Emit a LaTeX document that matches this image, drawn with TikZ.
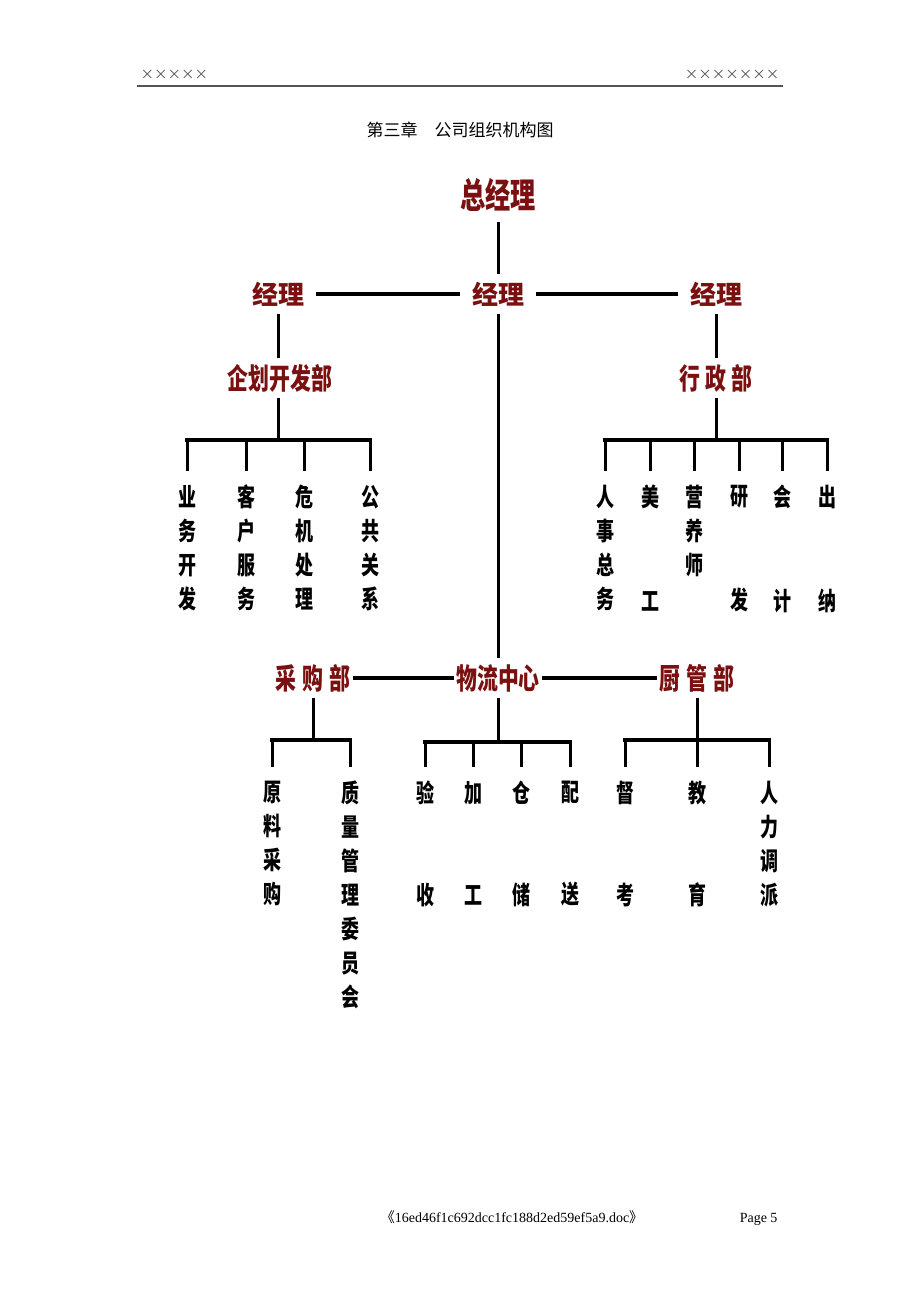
\documentclass[tikz,border=0pt]{standalone}
\usepackage{fontspec}
\setmainfont{Liberation Serif}
\newfontfamily\hei{Noto Sans CJK SC}
\newfontfamily\heiz[FakeStretch=0.72]{Noto Sans CJK SC}
\newfontfamily\heiv[FakeStretch=0.72]{Noto Sans CJK SC}
\definecolor{mgrred}{HTML}{7A1010}
\definecolor{headgray}{HTML}{555555}

\begin{document}
\begin{tikzpicture}[x=1pt,y=-1pt,
 mgr/.style={text=mgrred,font=\hei\bfseries\fontsize{26}{26}\selectfont,inner xsep=12pt,inner ysep=8pt},
 dept/.style={text=mgrred,font=\heiz\bfseries\fontsize{29}{29}\selectfont,inner xsep=2pt,inner ysep=6pt},
 vtext/.style={anchor=north,align=center,font=\heiv\bfseries\fontsize{25}{34}\selectfont,inner xsep=0pt,inner ysep=14pt},
 conn/.style={line width=3pt},
 bar/.style={line width=4pt,line cap=rect}]
 \useasboundingbox (0,0) rectangle (920,1302);
 % page head
 \node (headl) [anchor=west,text=headgray,font=\hei\fontsize{13.5}{13.5}\selectfont] at (137,75) {×××××};
 \node (headr) [anchor=east,text=headgray,font=\hei\fontsize{13.5}{13.5}\selectfont] at (783,75) {×××××××};
 \draw [line width=1.5pt,headgray] (137,86) -- (783,86);
 \node (title) [font=\hei\fontsize{17}{17}\selectfont] at (460,130) {第三章　公司组织机构图};
 % managers
 \node (gjl) [mgr,font=\heiz\bfseries\fontsize{35}{35}\selectfont,inner ysep=10pt] at (498,195) {总经理};
 \node (jlm) [mgr] at (498,294) {经理};
 \node (jll) [mgr] at (278,294) {经理};
 \node (jlr) [mgr] at (716,294) {经理};
 \draw [conn] (gjl.south) -- (jlm.north);
 \draw [bar,line cap=butt] (jll) -- (jlm);
 \draw [bar,line cap=butt] (jlm) -- (jlr);
 % planning dept
 \node (qhkf) [dept] at (280,378) {企划开发部};
 \coordinate (qhbar) at (278,440);
 \draw [conn] (jll.south) -- (jll.south |- qhkf.north);
 \draw [conn] (qhkf.south -| qhbar) -- (qhbar);
 \node (ywkf) [vtext] at (187,471) {业\\务\\开\\发};
 \node (khfw) [vtext] at (246,471) {客\\户\\服\\务};
 \node (wjcl) [vtext] at (304,471) {危\\机\\处\\理};
 \node (ggxx) [vtext] at (370,471) {公\\共\\关\\系};
 \draw [bar] (ywkf.north |- qhbar) -- (ggxx.north |- qhbar);
 \foreach \n in {ywkf,khfw,wjcl,ggxx}
  \draw [conn] (\n.north |- qhbar) -- (\n.north);
 % admin dept
 \node (xzb) [dept] at (716,378) {行\hspace{5pt}政\hspace{5pt}部};
 \coordinate (xzbar) at (716,440);
 \draw [conn] (jlr) -- (xzb);
 \draw [conn] (xzb) -- (xzbar);
 \node (rszw) [vtext] at (605,471) {人\\事\\总\\务};
 \node (mg) [vtext] at (650,471) {美\\[70pt]工};
 \node (yys) [vtext] at (694,471) {营\\养\\师};
 \node (yf) [vtext] at (739,471) {研\\[70pt]发};
 \node (kj) [vtext] at (782,471) {会\\[70pt]计};
 \node (cn) [vtext] at (827,471) {出\\[70pt]纳};
 \draw [bar] (rszw.north |- xzbar) -- (cn.north |- xzbar);
 \foreach \n in {rszw,mg,yys,yf,kj,cn}
  \draw [conn] (\n.north |- xzbar) -- (\n.north);
 % logistics row
 \node (cgou) [dept] at (313,678) {采\hspace{6pt}购\hspace{6pt}部};
 \node (wlzx) [dept] at (498,678) {物流中心};
 \node (cguan) [dept] at (697,678) {厨\hspace{6pt}管\hspace{6pt}部};
 \draw [conn] (jlm.south) -- (wlzx.north);
 \draw [bar,line cap=butt] (cgou) -- (wlzx);
 \draw [bar,line cap=butt] (wlzx) -- (cguan);
 \coordinate (cgbar) at (313,740);
 \coordinate (wlbar) at (498,742);
 \coordinate (cnbar) at (697,740);
 \draw [conn] (cgou.south -| cgbar) -- (cgbar);
 \draw [conn] (wlzx) -- (wlbar);
 \draw [conn] (cguan) -- (cnbar);
 \node (ylcg) [vtext] at (272,767) {原\\料\\采\\购};
 \node (zlgl) [vtext] at (350,767) {质\\量\\管\\理\\委\\员\\会};
 \node (ys) [vtext] at (425,767) {验\\[68pt]收};
 \node (jg) [vtext] at (473,767) {加\\[68pt]工};
 \node (cc) [vtext] at (521,767) {仓\\[68pt]储};
 \node (ps) [vtext] at (570,767) {配\\[68pt]送};
 \node (dk) [vtext] at (625,767) {督\\[68pt]考};
 \node (jy) [vtext] at (697,767) {教\\[68pt]育};
 \node (rldp) [vtext] at (769,767) {人\\力\\调\\派};
 \draw [bar] (ylcg.north |- cgbar) -- (zlgl.north |- cgbar);
 \draw [bar] (ys.north |- wlbar) -- (ps.north |- wlbar);
 \draw [bar] (dk.north |- cnbar) -- (rldp.north |- cnbar);
 \foreach \n in {ylcg,zlgl}
  \draw [conn] (\n.north |- cgbar) -- (\n.north);
 \foreach \n in {ys,jg,cc,ps}
  \draw [conn] (\n.north |- wlbar) -- (\n.north);
 \foreach \n in {dk,jy,rldp}
  \draw [conn] (\n.north |- cnbar) -- (\n.north);
 % page foot
 \node (foot) [anchor=base,font=\fontsize{14}{14}\selectfont] at (512,1222) {{\hei 《}16ed46f1c692dcc1fc188d2ed59ef5a9.doc{\hei 》}};
 \node (page) [anchor=base east,font=\fontsize{14}{14}\selectfont] at (781,1222) {Page 5};
\end{tikzpicture}
\end{document}
